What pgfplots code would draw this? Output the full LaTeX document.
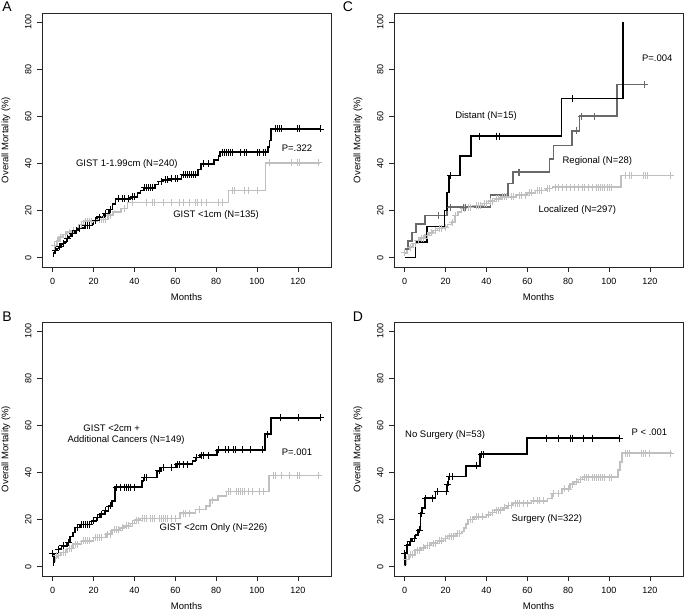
\documentclass[border=0pt]{standalone}
\usepackage{fontspec}
\setmainfont{Liberation Sans}
\usepackage{pgfplots}
\pgfplotsset{compat=1.18}
\definecolor{lgray}{RGB}{192,192,192}
\definecolor{dgray}{RGB}{105,105,105}
\newcommand\lab{\fontsize{9.5}{11}\selectfont}
\pgfplotsset{km/.style={
  scale only axis, width=289pt, height=254pt,
  xmin=-5.24, xmax=136.24, ymin=-4, ymax=104,
  xtick={0,20,...,120}, ytick={0,20,...,100},
  tick pos=left, tick align=outside, major tick length=5pt,
  axis line style={black!85, line width=0.8pt},
  every tick/.style={black!85, line width=0.6pt},
  /pgf/number format/assume math mode=true,
  ticklabel style={font=\fontsize{9}{10}\selectfont},
  yticklabel style={rotate=90, anchor=south},
  xticklabel shift=3pt, yticklabel shift=2pt,
  xlabel={Months}, ylabel={Overall Mortality (\%)},
  label style={font=\lab},
  xlabel style={at={(axis description cs:0.5,-0.117)}, anchor=center},
  ylabel style={at={(axis description cs:-0.125,0.5)}, anchor=center},
  every node near coord/.style={},
},
blk/.style={const plot, black, line width=1.6pt},
gry/.style={const plot, lgray, line width=1.6pt},
dgr/.style={const plot, dgray, line width=1.6pt},
cb/.style={only marks, mark=+, mark size=3.5pt, black, mark options={line width=0.8pt}},
cg/.style={only marks, mark=+, mark size=3.5pt, lgray, mark options={line width=0.8pt}},
cd/.style={only marks, mark=+, mark size=3.5pt, dgray, mark options={line width=0.8pt}},
}
\begin{document}
\begin{tikzpicture}[x=1pt,y=1pt]
\path[use as bounding box] (0,0) rectangle (685,611);
\node[font=\fontsize{14}{16}\selectfont] at (7,604) {A};
\node[font=\fontsize{14}{16}\selectfont] at (348,604) {C};
\node[font=\fontsize{14}{16}\selectfont] at (7,294) {B};
\node[font=\fontsize{14}{16}\selectfont] at (358,294) {D};
% ---------------- Panel A
\begin{axis}[km, at={(42pt,344pt)}, anchor=south west]
\addplot[gry] coordinates {(0,3.0)(0.8,5.0)(1.8,7.0)(3.0,8.7)(5.0,9.8)(7.0,10.8)(9.0,11.6)(12.0,12.6)(13.0,14.0)(15.0,15.5)(22.0,16.2)(27.0,18.0)(29.5,19.5)(33.5,20.8)(36.6,23.5)(86.0,28.5)(104.2,40.3)(131.0,40.3)};
\addplot[cg] coordinates {(1,5)(2.5,7)(4,8.7)(6,9.8)(8,10.8)(10,11.6)(14,14)(16,15.5)(17,15.5)(18,15.5)(19,15.5)(23,16.2)(24,16.2)(25,16.2)(26,16.2)(28,18)(35,20.8)(39,23.5)(46,23.5)(49,23.5)(50,23.5)(54,23.5)(58,23.5)(62,23.5)(64,23.5)(67,23.5)(70,23.5)(71,23.5)(73,23.5)(75,23.5)(81,23.5)(83,23.5)(88,28.5)(89,28.5)(94,28.5)(96,28.5)(100,28.5)(106,40.3)(117,40.3)(120,40.3)(121,40.3)(130,40.3)};
\addplot[blk] coordinates {(0,0.4)(0.3,2.0)(1.2,3.0)(2.0,3.8)(3.0,4.6)(4.2,5.9)(5.3,6.6)(6.7,8.1)(8.0,9.0)(9.1,10.2)(10.8,11.6)(12.5,12.4)(14.0,12.7)(15.6,13.7)(19.0,14.2)(20.0,15.8)(21.8,17.2)(25.0,18.7)(27.6,20.4)(29.2,22.9)(30.8,25.0)(38.0,25.8)(41.5,27.5)(43.0,28.6)(44.4,29.7)(50.0,31.0)(51.8,32.3)(54.0,33.0)(57.0,33.5)(63.0,35.2)(71.0,37.5)(72.5,39.8)(79.0,41.5)(81.2,43.2)(82.0,44.8)(105.5,47.0)(106.2,49.8)(107.0,54.7)(131.0,54.7)};
\addplot[cb] coordinates {(1.5,3)(3.5,4.6)(5,5.9)(7,8.1)(9.5,10.2)(11.5,11.6)(13,12.4)(16,13.7)(17,13.7)(18,13.7)(21,15.8)(23,17.2)(26,18.7)(28,20.4)(32,25)(34,25)(35,25)(37,25)(39,25.8)(40,25.8)(45,29.7)(46,29.7)(47,29.7)(48,29.7)(49,29.7)(53,32.3)(55,33)(56,33)(58,33.5)(60,33.5)(61,33.5)(64,35.2)(65,35.2)(66,35.2)(67,35.2)(68,35.2)(69,35.2)(70,35.2)(74,39.8)(76,39.8)(83,44.8)(84,44.8)(85,44.8)(86,44.8)(87,44.8)(88,44.8)(92,44.8)(94,44.8)(95,44.8)(100,44.8)(101,44.8)(103,44.8)(104,44.8)(109,54.7)(110,54.7)(111,54.7)(112,54.7)(120,54.7)(121,54.7)(131,54.7)};
\node[font=\lab] at (axis cs:36.3,39.9) {GIST 1-1.99cm (N=240)};
\node[font=\lab] at (axis cs:80,18.3) {GIST <1cm (N=135)};
\node[font=\lab] at (axis cs:119.6,46.7) {P=.322};
\end{axis}
% ---------------- Panel C
\begin{axis}[km, at={(394pt,344pt)}, anchor=south west]
\addplot[gry] coordinates {(0,2.0)(1.0,3.5)(2.5,4.5)(4.0,6.0)(5.8,7.1)(7.5,8.3)(9.9,9.5)(12.0,10.5)(13.9,11.6)(16.0,12.3)(18.8,13.0)(21.0,14.0)(22.9,15.1)(24.6,17.9)(26.0,19.3)(27.8,20.8)(30.0,21.5)(33.5,22.2)(38.0,23.0)(41.0,24.0)(44.0,25.0)(47.0,25.8)(54.6,26.6)(60.0,27.5)(64.0,28.6)(69.2,29.3)(72.4,30.0)(106.0,34.9)(131.0,34.9)};
\addplot[cg] coordinates {(0,2)(3,4.5)(5,6)(6.5,7.1)(8,8.3)(9,8.3)(11,9.5)(13,10.5)(15,11.6)(17,12.3)(18,12.3)(20,13)(23.5,15.1)(25,17.9)(29,20.8)(31,21.5)(32,21.5)(35,22.2)(36,22.2)(37,22.2)(39,23)(40,23)(42,24)(43,24)(45,25)(46,25)(48,25.8)(49,25.8)(50,25.8)(52,25.8)(53,25.8)(56,26.6)(57,26.6)(59,26.6)(61,27.5)(62,27.5)(65,28.6)(66,28.6)(67,28.6)(70,29.3)(71,29.3)(74,30)(75,30)(77,30)(79,30)(81,30)(83,30)(85,30)(87,30)(88,30)(90,30)(92,30)(94,30)(95,30)(96,30)(97,30)(98,30)(99,30)(100,30)(101,30)(108,34.9)(110,34.9)(111,34.9)(117,34.9)(118,34.9)(119,34.9)(130,34.9)};
\addplot[dgr] coordinates {(0,3.6)(1.5,7.1)(3.5,10.7)(5.5,14.3)(10.0,17.9)(20.8,21.4)(42.0,26.5)(50.5,31.5)(53.0,36.3)(70.8,42.0)(72.8,47.7)(82.0,53.9)(85.5,60.2)(104.0,73.6)(117.5,73.6)};
\addplot[cd] coordinates {(16.6,17.9)(22.5,21.4)(28.5,21.4)(29.5,21.4)(55.5,36.3)(56.2,36.3)(84,53.9)(86.5,60.2)(93,60.2)(117.5,73.6)};
\addplot[blk] coordinates {(0,0)(5.2,6.7)(11.0,13.3)(19.5,20.0)(20.8,27.6)(21.6,34.9)(27.2,43.3)(32.5,51.6)(76.7,67.7)(106.8,100)};
\addplot[cb] coordinates {(22.6,34.9)(36.5,51.6)(45,51.6)(46.3,51.6)(82,67.7)};
\node[font=\lab] at (axis cs:39.8,60) {Distant (N=15)};
\node[font=\lab] at (axis cs:123.6,84.9) {P=.004};
\node[font=\lab] at (axis cs:94.3,40.9) {Regional (N=28)};
\node[font=\lab] at (axis cs:84.5,20.1) {Localized (N=297)};
\end{axis}
% ---------------- Panel B
\begin{axis}[km, at={(42pt,35pt)}, anchor=south west]
\addplot[gry] coordinates {(0,1.7)(0.5,2.5)(1.0,3.8)(2.5,4.8)(4.0,6.0)(7.0,7.7)(10.0,9.5)(14.0,10.9)(20.0,12.3)(26.0,13.8)(29.0,15.6)(33.0,16.5)(35.0,17.3)(38.0,18.4)(40.0,19.7)(43.0,20.4)(62.4,22.7)(70.0,24.3)(75.0,25.8)(77.0,28.2)(81.0,30.0)(85.0,31.9)(106.0,38.7)(131.0,38.7)};
\addplot[cg] coordinates {(2,4.8)(3,4.8)(5,6)(6,6)(8,7.7)(9,7.7)(11,9.5)(12,9.5)(15,10.9)(16,10.9)(17,10.9)(18,10.9)(21,12.3)(22,12.3)(23,12.3)(24,12.3)(27,13.8)(28,13.8)(30,15.6)(31,15.6)(32,15.6)(34,16.5)(36,17.3)(37,17.3)(39,18.4)(41,19.7)(42,19.7)(44,20.4)(45,20.4)(46,20.4)(48,20.4)(49,20.4)(50,20.4)(52,20.4)(53,20.4)(54,20.4)(55,20.4)(56,20.4)(58,20.4)(60,20.4)(64,22.7)(65,22.7)(67,22.7)(72,24.3)(78,28.2)(86,31.9)(87,31.9)(90,31.9)(91,31.9)(92,31.9)(93,31.9)(94,31.9)(96,31.9)(98,31.9)(101,31.9)(103,31.9)(108,38.7)(109,38.7)(112,38.7)(116,38.7)(120,38.7)(121,38.7)(130,38.7)};
\addplot[blk] coordinates {(0,0.5)(0.3,1.7)(0.6,5.5)(2.8,7.4)(4.4,8.8)(6.9,10.2)(8.5,12.8)(10.0,14.5)(11.0,16.6)(13.4,17.9)(19.0,19.4)(21.5,20.9)(23.2,22.3)(25.6,23.7)(27.3,25.8)(28.9,27.9)(30.5,33.8)(43.6,36.5)(44.4,37.9)(51.0,40.7)(53.0,42.1)(60.5,43.5)(68.5,45.0)(70.0,46.4)(72.0,47.4)(80.3,49.6)(104.0,56.3)(106.8,63.3)(131.0,63.3)};
\addplot[cb] coordinates {(0,5.5)(3,7.4)(5,8.8)(7.5,10.2)(12,16.6)(14,17.9)(15,17.9)(16,17.9)(17,17.9)(18,17.9)(20,19.4)(22,20.9)(24,22.3)(26,23.7)(28,25.8)(31,33.8)(33,33.8)(35,33.8)(36,33.8)(37,33.8)(38,33.8)(40,33.8)(45,37.9)(46,37.9)(52,40.7)(54,42.1)(58,42.1)(61,43.5)(62,43.5)(64,43.5)(66,43.5)(70.5,46.4)(73,47.4)(74,47.4)(76,47.4)(81,49.6)(84.5,49.6)(86,49.6)(88.5,49.6)(89.5,49.6)(92.8,49.6)(96.8,49.6)(102.6,49.6)(105,56.3)(111.4,63.3)(120.2,63.3)(131,63.3)};
\node[font=\lab] at (axis cs:28.9,58.7) {GIST <2cm +};
\node[font=\lab] at (axis cs:35.9,53.6) {Additional Cancers (N=149)};
\node[font=\lab] at (axis cs:119.6,48.5) {P=.001};
\node[font=\lab] at (axis cs:78.7,16.2) {GIST <2cm Only (N=226)};
\end{axis}
% ---------------- Panel D
\begin{axis}[km, at={(394pt,35pt)}, anchor=south west]
\addplot[gry] coordinates {(0,1.0)(0.5,3.0)(2.0,5.0)(5.0,7.0)(8.0,8.0)(10.0,9.0)(13.0,10.0)(16.0,11.0)(19.0,12.0)(21.0,13.0)(25.0,14.0)(28.0,15.0)(29.0,16.3)(30.0,18.0)(31.0,20.0)(34.0,21.2)(40.0,22.0)(42.0,23.0)(44.0,24.0)(48.0,25.0)(50.0,26.0)(53.0,27.0)(62.0,28.0)(70.0,29.0)(72.0,31.0)(77.0,33.0)(81.0,35.0)(83.0,36.0)(85.0,37.0)(87.0,38.0)(104.3,41.0)(105.3,44.5)(106.5,48.2)(131.0,48.2)};
\addplot[cg] coordinates {(1,3)(3,5)(4,5)(6,7)(7,7)(9,8)(11,9)(12,9)(14,10)(15,10)(17,11)(18,11)(20,12)(22,13)(23,13)(24,13)(26,14)(27,14)(32,20)(33,20)(35,21.2)(36,21.2)(38,21.2)(41,22)(43,23)(45,24)(46,24)(47,24)(49,25)(51,26)(52,26)(54,27)(55,27)(56,27)(58,27)(60,27)(63,28)(65,28)(66,28)(68,28)(73,31)(75,31)(78,33)(80,33)(82,35)(84,36)(86,37)(88,38)(89,38)(90,38)(92,38)(93,38)(94,38)(95,38)(96,38)(97,38)(98,38)(100,38)(101,38)(108,48.2)(109,48.2)(110,48.2)(116,48.2)(117,48.2)(118,48.2)(120,48.2)(130,48.2)};
\addplot[blk] coordinates {(0,0.5)(0.2,5.7)(1.0,9.2)(2.4,10.6)(3.6,12.0)(5.2,13.5)(6.4,15.6)(7.7,22.7)(8.5,24.8)(9.8,29.1)(15.0,31.9)(20.6,34.8)(21.5,38.3)(30.0,42.8)(37.0,47.8)(60.0,54.6)(105.0,54.6)};
\addplot[cb] coordinates {(0,5.7)(1.5,9.2)(3,10.6)(4.5,12)(7,15.6)(8,22.7)(10.2,29.1)(13.5,29.1)(16,31.9)(20.2,31.9)(21,34.8)(22,38.3)(23.5,38.3)(35,42.8)(37.5,47.8)(38.5,47.8)(69.5,54.6)(75,54.6)(81,54.6)(82,54.6)(87.5,54.6)(92,54.6)(105,54.6)};
\node[font=\lab] at (axis cs:19.8,55.9) {No Surgery (N=53)};
\node[font=\lab] at (axis cs:119.8,57) {P < .001};
\node[font=\lab] at (axis cs:69.6,20.4) {Surgery (N=322)};
\end{axis}
\end{tikzpicture}
\end{document}
